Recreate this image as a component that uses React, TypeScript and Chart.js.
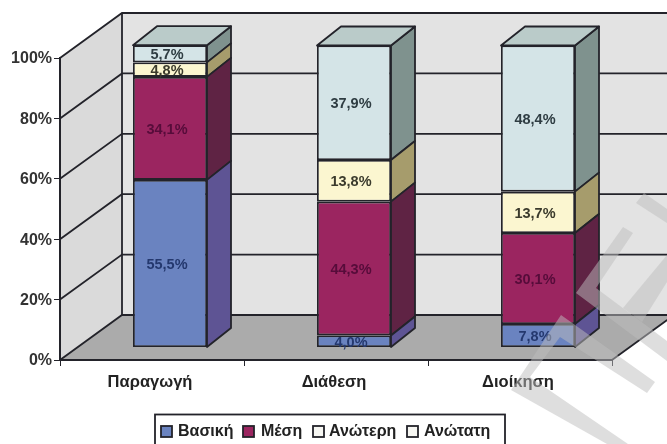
import React, { useEffect, useRef } from "react";
import { Chart, registerables } from "chart.js";

Chart.register(...registerables);

const categories = ["Παραγωγή", "Διάθεση", "Διοίκηση"];
const basic = [55.5, 4.0, 7.8];
const secondary = [34.1, 44.3, 30.1];
const higher = [4.8, 13.8, 13.7];
const highest = [5.7, 37.9, 48.4];
const seriesNames = ["Βασική", "Μέση", "Ανώτερη", "Ανώτατη"];
const yTicks = [0, 20, 40, 60, 80, 100];

const frontColors = ["#6A83C0", "#9B2560", "#FBF6D0", "#D4E4E7"];
const sideColors = ["#5E5494", "#5F2344", "#A69C6C", "#7F928E"];
const labelColors = ["#24386E", "#560C3A", "#3A3A2C", "#2E3C42"];
const TOP_FACE = "#BACBC9";
const INK = "#23232A";
const FONT = "'Liberation Sans', Arial, sans-serif";

// Depth of the plot box and of each column, in pixels.
const WALL_DX = 62;
const WALL_DY = 45;
const BAR_SHIFT_X = 18;
const BAR_SHIFT_Y = 12.5;
const BAR_DX = 24;
const BAR_DY = 19;
const LINE = 1.8;

// Translucent diagonal bands laid over the finished chart.
const overlayBands: number[][][] = [
  [[576, 293], [623, 227], [633, 233], [596, 288], [667, 341], [667, 361]],
  [[561, 315], [511, 390], [607, 444], [628, 444], [530, 377], [560, 337], [647, 393], [655, 382]],
  [[623, 308], [667, 255], [667, 282], [642, 322]],
  [[644, 193], [667, 209], [667, 223], [636, 203]],
];

const polygon = (ctx: CanvasRenderingContext2D, pts: number[][]) => {
  ctx.beginPath();
  pts.forEach(([x, y], i) => (i ? ctx.lineTo(x, y) : ctx.moveTo(x, y)));
  ctx.closePath();
};

const boxPlugin = {
  id: "box3d",
  beforeDraw(chart: any) {
    const { ctx, chartArea: a, scales } = chart;
    const { left: l, right: r, top: t, bottom: b } = a;
    ctx.save();
    ctx.fillStyle = "#FFFFFF";
    ctx.fillRect(0, 0, chart.width, chart.height);
    ctx.fillStyle = "#E3E3E3";
    ctx.fillRect(l + WALL_DX, t - WALL_DY, r - l, b - t);
    polygon(ctx, [[l, t], [l + WALL_DX, t - WALL_DY], [l + WALL_DX, b - WALL_DY], [l, b]]);
    ctx.fillStyle = "#DADADA";
    ctx.fill();
    polygon(ctx, [[l, b], [r, b], [r + WALL_DX, b - WALL_DY], [l + WALL_DX, b - WALL_DY]]);
    ctx.fillStyle = "#ABABAB";
    ctx.fill();
    ctx.strokeStyle = INK;
    ctx.lineWidth = LINE;
    for (const tick of yTicks) {
      const y = scales.y.getPixelForValue(tick);
      ctx.beginPath();
      ctx.moveTo(l, y);
      ctx.lineTo(l + WALL_DX, y - WALL_DY);
      ctx.lineTo(r + WALL_DX, y - WALL_DY);
      ctx.stroke();
    }
    ctx.beginPath();
    ctx.moveTo(l + WALL_DX, t - WALL_DY);
    ctx.lineTo(l + WALL_DX, b - WALL_DY);
    ctx.moveTo(r, b);
    ctx.lineTo(r + WALL_DX, b - WALL_DY);
    ctx.stroke();
    ctx.restore();
  },
  beforeDatasetDraw(chart: any) {
    chart.ctx.save();
    chart.ctx.translate(BAR_SHIFT_X, -BAR_SHIFT_Y);
  },
  afterDatasetDraw(chart: any, args: any) {
    const { ctx } = chart;
    ctx.strokeStyle = INK;
    ctx.lineWidth = LINE;
    ctx.lineJoin = "round";
    const last = chart.data.datasets.length - 1;
    for (const el of args.meta.data) {
      const rx = el.x + el.width / 2;
      const lx = el.x - el.width / 2;
      polygon(ctx, [[rx, el.y], [rx + BAR_DX, el.y - BAR_DY], [rx + BAR_DX, el.base - BAR_DY], [rx, el.base]]);
      ctx.fillStyle = sideColors[args.index];
      ctx.fill();
      ctx.stroke();
      if (args.index === last) {
        polygon(ctx, [[lx, el.y], [lx + BAR_DX, el.y - BAR_DY], [rx + BAR_DX, el.y - BAR_DY], [rx, el.y]]);
        ctx.fillStyle = TOP_FACE;
        ctx.fill();
        ctx.stroke();
      }
    }
    ctx.restore();
  },
  afterDatasetsDraw(chart: any) {
    const { ctx } = chart;
    ctx.save();
    ctx.font = `bold 14.5px ${FONT}`;
    ctx.textAlign = "center";
    ctx.textBaseline = "middle";
    chart.data.datasets.forEach((ds: any, i: number) => {
      chart.getDatasetMeta(i).data.forEach((el: any, j: number) => {
        ctx.fillStyle = labelColors[i];
        const text = `${ds.data[j].toFixed(1).replace(".", ",")}%`;
        ctx.fillText(text, el.x + BAR_SHIFT_X - 3, (el.y + el.base) / 2 - BAR_SHIFT_Y + 1.5);
      });
    });
    ctx.restore();
  },
  afterDraw(chart: any) {
    const { ctx } = chart;
    ctx.save();
    // Legend panel: its lower edge runs off the bottom of the canvas.
    ctx.strokeStyle = INK;
    ctx.lineWidth = LINE;
    ctx.strokeRect(155, 414.5, 350, 40);
    const slots = [
      [161, 178],
      [243, 261],
      [313, 329],
      [407, 424],
    ];
    ctx.font = `bold 16px ${FONT}`;
    ctx.textAlign = "left";
    ctx.textBaseline = "middle";
    seriesNames.forEach((name, i) => {
      ctx.fillStyle = i < 2 ? frontColors[i] : "#F6F6F2";
      ctx.fillRect(slots[i][0], 426, 11, 11);
      ctx.strokeRect(slots[i][0], 426, 11, 11);
      ctx.fillStyle = "#222222";
      ctx.fillText(name, slots[i][1], 432);
    });
    ctx.fillStyle = "rgba(190,190,190,0.5)";
    for (const band of overlayBands) {
      polygon(ctx, band);
      ctx.fill();
    }
    ctx.restore();
  },
};

export default function App() {
  const ref = useRef<HTMLCanvasElement>(null);

  useEffect(() => {
    const series = [basic, secondary, higher, highest];
    const chart = new Chart(ref.current as HTMLCanvasElement, {
      type: "bar",
      data: {
        labels: categories,
        datasets: series.map((data, i) => ({
          label: seriesNames[i],
          data,
          backgroundColor: frontColors[i],
          borderColor: INK,
          borderWidth: LINE,
          borderSkipped: false,
          inflateAmount: 0,
          categoryPercentage: 74 / 184,
          barPercentage: 1,
          clip: false,
        })),
      },
      options: {
        animation: false,
        responsive: false,
        layout: { padding: { top: 58, right: 55, left: 0, bottom: 0 } },
        plugins: { legend: { display: false }, tooltip: { enabled: false } },
        scales: {
          x: {
            stacked: true,
            afterFit: (s: any) => {
              s.height = 84;
            },
            border: { color: INK, width: 2 },
            grid: { drawOnChartArea: false, drawTicks: true, tickLength: 6, color: INK },
            ticks: {
              color: "#222222",
              padding: 7,
              labelOffset: -2,
              maxRotation: 0,
              font: { family: FONT, size: 16.5, weight: "bold" },
            },
          },
          y: {
            stacked: true,
            min: 0,
            max: 100,
            afterFit: (s: any) => {
              s.width = 60;
            },
            afterBuildTicks: (s: any) => {
              s.ticks = yTicks.map((value) => ({ value }));
            },
            border: { color: INK, width: 2 },
            grid: { drawOnChartArea: false, drawTicks: true, tickLength: 6, color: INK },
            ticks: {
              color: "#333333",
              padding: 2,
              labelOffset: 1,
              callback: (v: any) => `${v}%`,
              font: { family: FONT, size: 16, weight: "bold" },
            },
          },
        },
      },
      plugins: [boxPlugin],
    } as any);
    return () => chart.destroy();
  }, []);

  return (
    <div style={{ position: "absolute", left: 0, top: 0, width: 667, height: 444, overflow: "hidden" }}>
      <canvas ref={ref} width={667} height={444} style={{ display: "block" }} />
    </div>
  );
}
